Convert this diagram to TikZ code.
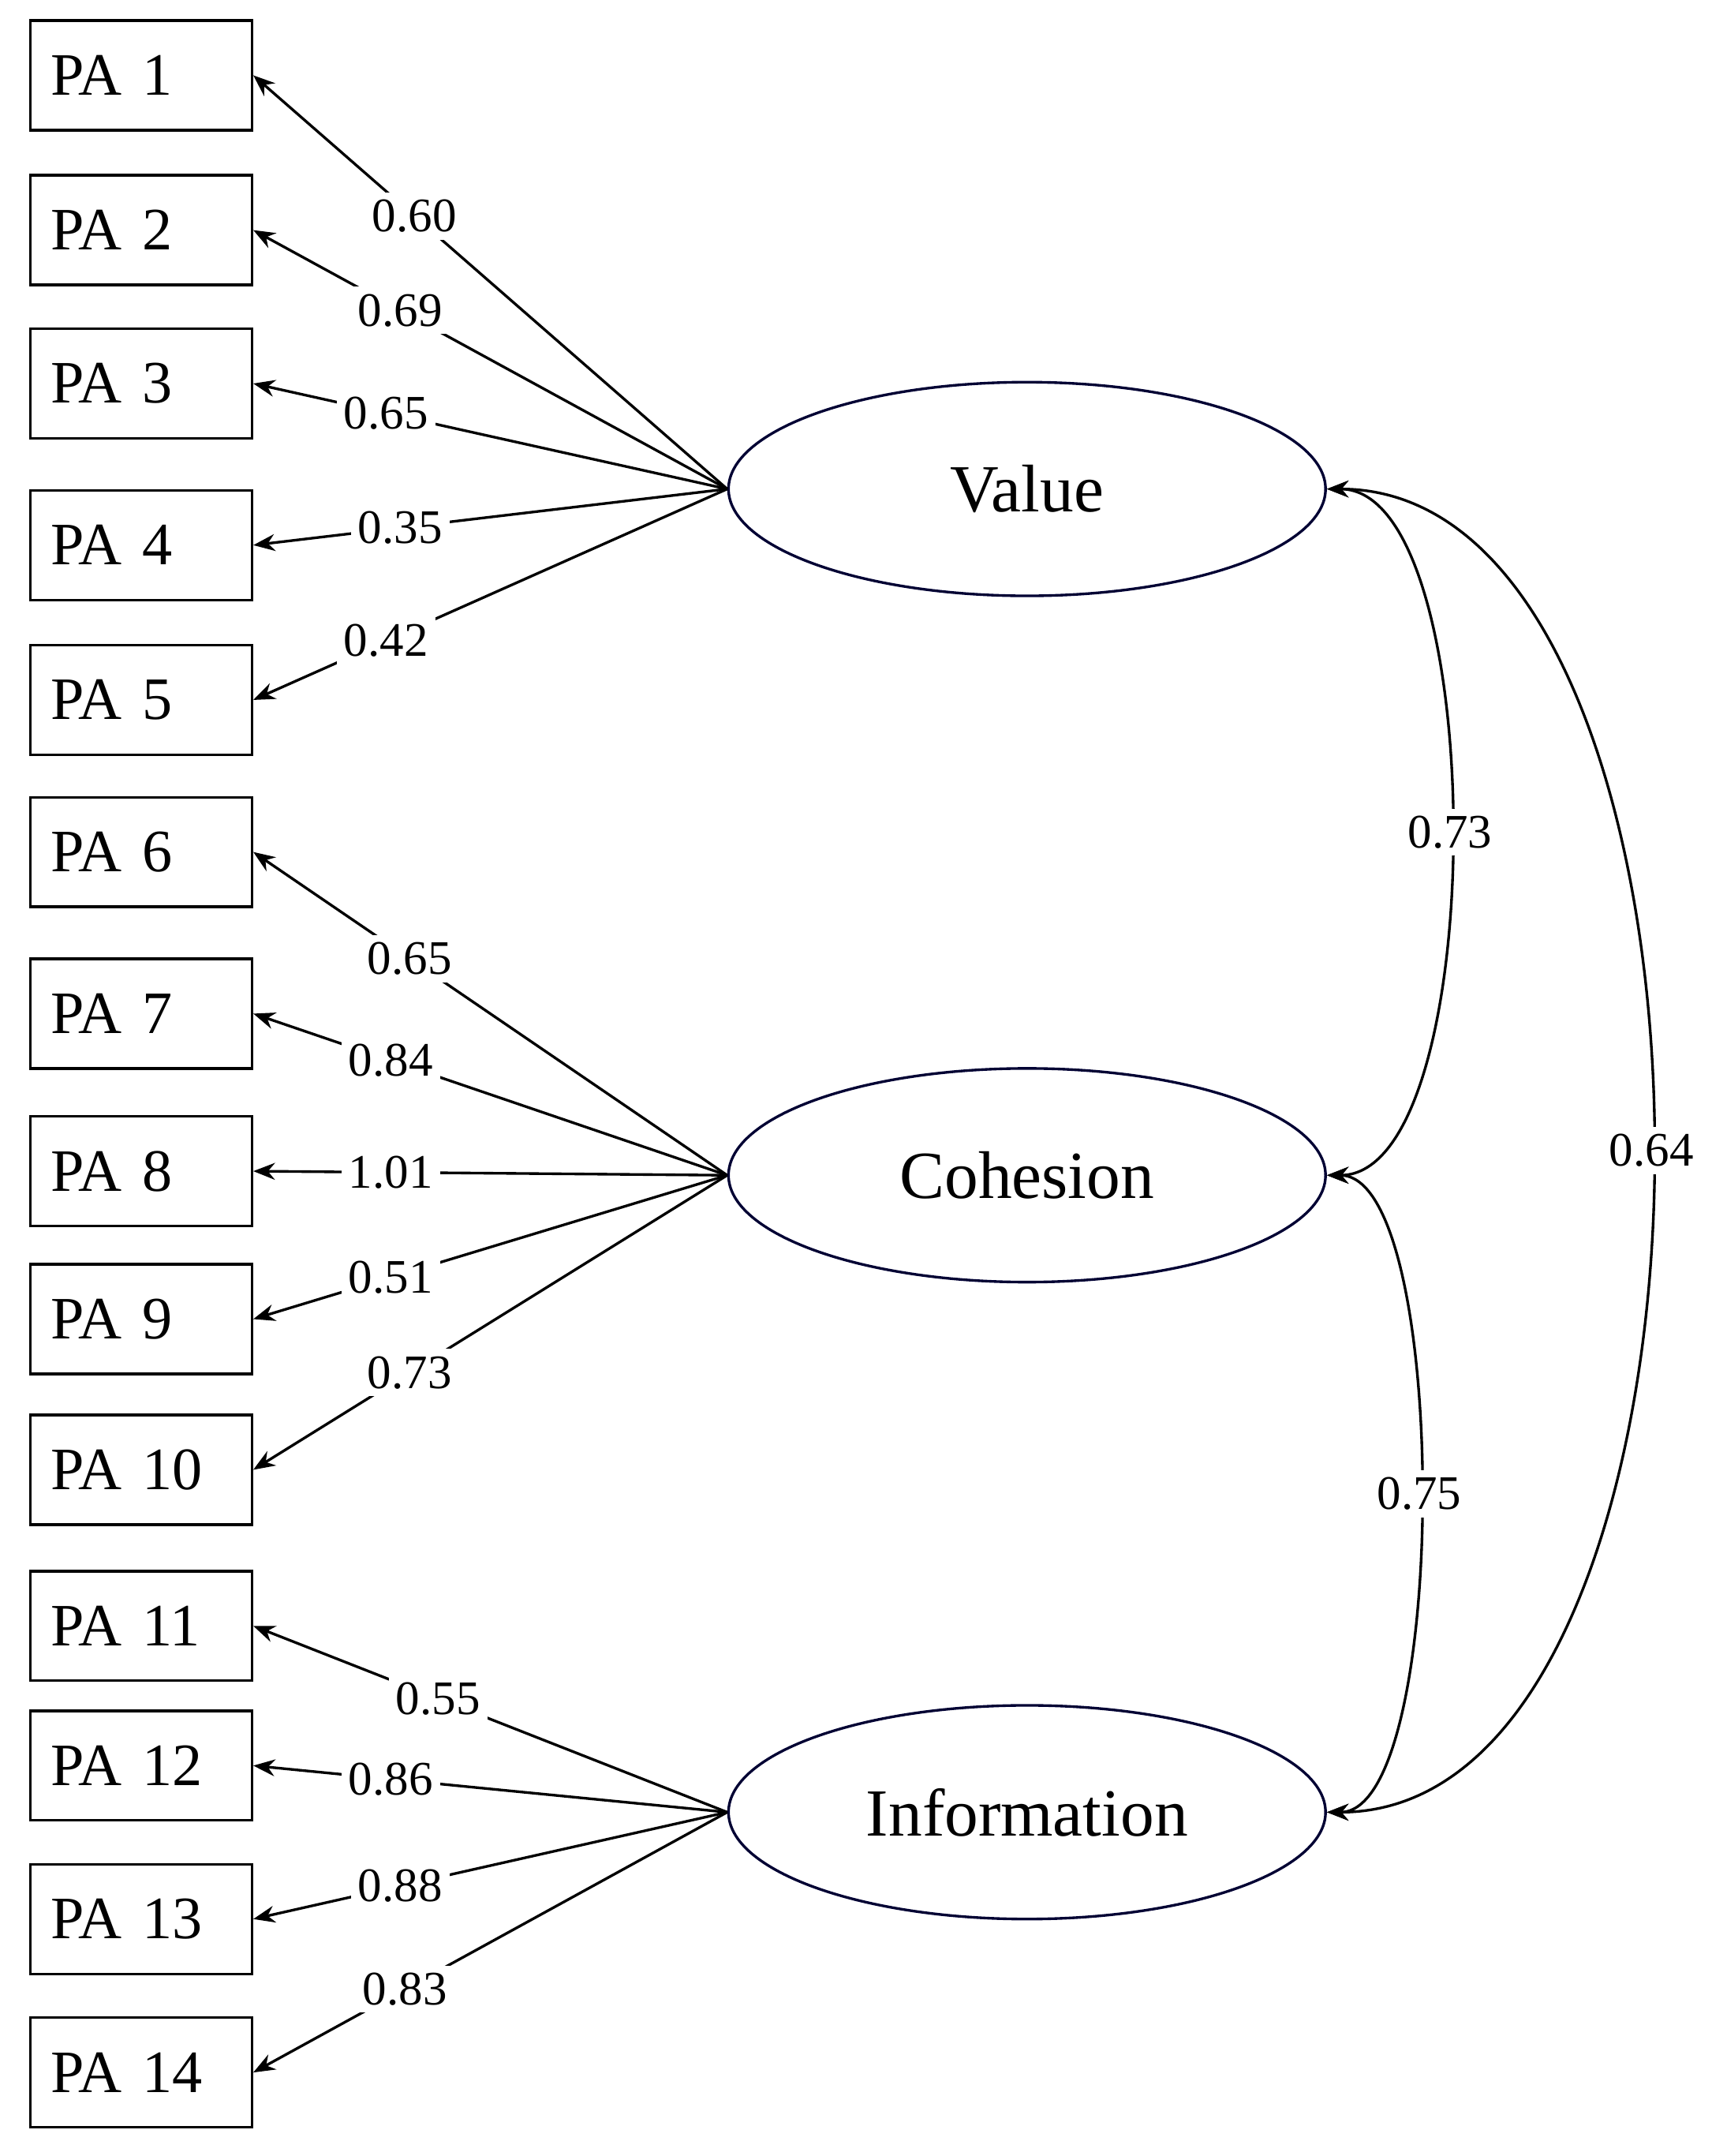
\documentclass[tikz,border=0pt]{standalone}
\usepackage{fontspec}
\setmainfont{Liberation Serif}
\usetikzlibrary{positioning,shapes.geometric,arrows.meta}
\tikzset{
  item/.style={draw, line width=1.1pt, minimum width=162*0.02cm, minimum height=80*0.02cm, font=\fontsize{25}{28}\selectfont, inner sep=0pt, text width=132*0.02cm, align=left},
  factor/.style={draw=black!80!blue, line width=1.1pt, ellipse, minimum width=436*0.02cm, minimum height=156*0.02cm, font=\fontsize{28}{32}\selectfont},
  load/.style={fill=white, inner sep=3pt, font=\fontsize{20}{24}\selectfont},
  tip/.style={-{Stealth[length=9pt,width=7pt]}, line width=1.1pt},
  both/.style={{Stealth[length=9pt,width=7pt]}-{Stealth[length=9pt,width=7pt]}, line width=1.1pt},
}
\begin{document}
\begin{tikzpicture}[x=0.02cm, y=-0.02cm]
  \useasboundingbox (0,0) rectangle (1250,1574);
  % indicators
  \foreach \i/\y in {1/55,2/168,3/280,4/398,5/511,6/622,7/740,8/855,9/963,10/1073,11/1187,12/1289,13/1401,14/1513}
    \node[item] (pa\i) at (103,\y) {PA \i};
  % factors
  \node[factor] (val) at (750,357) {Value};
  \node[factor] (coh) at (750,858) {Cohesion};
  \node[factor] (inf) at (750,1323) {Information};
  % loadings
  \foreach \i/\l/\p in {1/0.60/.66,2/0.69/.69,3/0.65/.72,4/0.35/.69,5/0.42/.72}
    \draw[tip] (val.west) -- node[load, pos=\p] {\l} (pa\i.east);
  \foreach \i/\l/\p in {6/0.65/.67,7/0.84/.71,8/1.01/.71,9/0.51/.71,10/0.73/.67}
    \draw[tip] (coh.west) -- node[load, pos=\p] {\l} (pa\i.east);
  \foreach \i/\l/\p in {11/0.55/.61,12/0.86/.71,13/0.88/.69,14/0.83/.68}
    \draw[tip] (inf.west) -- node[load, pos=\p] {\l} (pa\i.east);
  % correlations
  \draw[both] (val.east) .. controls +(120,0) and +(120,0) .. node[load] {0.73} (coh.east);
  \draw[both] (coh.east) .. controls +(90,0) and +(90,0) .. node[load] {0.75} (inf.east);
  \draw[both] (val.east) .. controls +(316,0) and +(316,0) .. node[load] {0.64} (inf.east);
\end{tikzpicture}
\end{document}
